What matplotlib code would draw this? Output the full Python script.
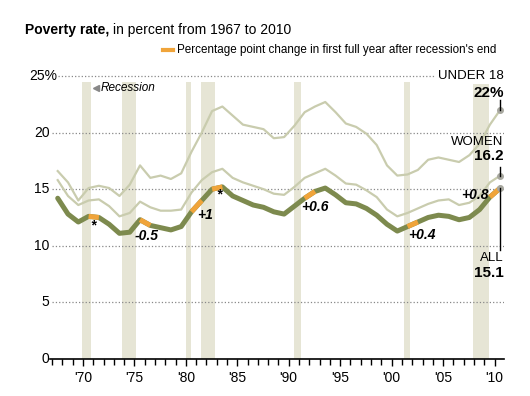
import matplotlib.pyplot as plt
import numpy as np

plt.rcParams['font.family'] = ['Liberation Sans', 'DejaVu Sans']

# poverty rate, percent
years = np.arange(1967, 2011)
all_people = [14.2, 12.8, 12.1, 12.6, 12.5, 11.9, 11.1, 11.2, 12.3, 11.8,
              11.6, 11.4, 11.7, 13.0, 14.0, 15.0, 15.2, 14.4, 14.0, 13.6,
              13.4, 13.0, 12.8, 13.5, 14.2, 14.8, 15.1, 14.5, 13.8, 13.7,
              13.3, 12.7, 11.9, 11.3, 11.7, 12.1, 12.5, 12.7, 12.6, 12.3,
              12.5, 13.2, 14.3, 15.1]
women = [15.8, 14.4, 13.6, 14.0, 14.1, 13.5, 12.6, 12.9, 13.9, 13.4,
         13.1, 13.1, 13.2, 14.7, 15.8, 16.5, 16.8, 16.0, 15.6, 15.3,
         15.0, 14.6, 14.5, 15.2, 16.0, 16.4, 16.8, 16.2, 15.5, 15.4,
         14.9, 14.3, 13.2, 12.6, 12.9, 13.3, 13.7, 14.0, 14.1, 13.6,
         13.8, 14.4, 15.6, 16.2]
under18 = [16.6, 15.6, 14.0, 15.1, 15.3, 15.1, 14.4, 15.4, 17.1, 16.0,
           16.2, 15.9, 16.4, 18.3, 20.0, 21.9, 22.3, 21.5, 20.7, 20.5,
           20.3, 19.5, 19.6, 20.6, 21.8, 22.3, 22.7, 21.8, 20.8, 20.5,
           19.9, 18.9, 17.1, 16.2, 16.3, 16.7, 17.6, 17.8, 17.6, 17.4,
           18.0, 19.0, 20.7, 22.0]

# recessions (start, end) as fractional years
recessions = [(1969.92, 1970.83), (1973.83, 1975.17), (1980.0, 1980.5),
              (1981.5, 1982.83), (1990.5, 1991.17), (2001.17, 2001.83),
              (2007.92, 2009.5)]
# first full year after recession's end: segment (year-1 -> year) and label
recovery_years = [1971, 1976, 1981, 1983, 1992, 2002, 2010]
recovery_labels = ['*', '-0.5', '+1', '*', '+0.6', '+0.4', '+0.8']

xoff = 0.55
xs = years + xoff

fig = plt.figure(figsize=(5.3, 3.96), dpi=100)
ax = fig.add_axes([50/530, 37/396, 454/530, 288.7/396])
ax.set_xlim(1966.8, 2010.92)
ax.set_ylim(0, 25.5)

for s, e in recessions:
    ax.axvspan(s, e, ymin=0, ymax=24.5/25.5, color='#e6e5d5', lw=0, zorder=0)

for v in [5, 10, 15, 20]:
    ax.hlines(v, 1966.95, 2010.92, color='#888888', lw=0.9, ls=':', zorder=1)
ax.hlines(25, 1967.55, 2010.92, color='#888888', lw=0.9, ls=':', zorder=1)

pale = '#c9ccae'
ax.plot(xs, under18, color=pale, lw=1.6, zorder=2)
ax.plot(xs, women, color=pale, lw=1.6, zorder=2)
ax.plot(xs, all_people, color='#7d8a4e', lw=3.6, solid_capstyle='round',
        solid_joinstyle='round', zorder=3)

for yr in recovery_years:
    i = list(years).index(yr)
    ax.plot(xs[i-1:i+1], all_people[i-1:i+1], color='#f0a43a', lw=3.6,
            solid_capstyle='butt', zorder=4)

# end points
for ser in [under18, women, all_people]:
    ax.plot(xs[-1], ser[-1], 'o', ms=4, color='#a8a8a0', zorder=5)

# change labels
lab_pos = [(1970.95, 11.8), (1976.2, 10.85), (1981.85, 12.75), (1983.25, 14.5),
           (1992.55, 13.4), (2002.9, 10.95), (2008.1, 14.5)]
for (lx, ly), t in zip(lab_pos, recovery_labels):
    ax.text(lx, ly, t, ha='center', va='center', fontsize=10,
            fontweight='bold', style='italic', color='black', zorder=6)

# right labels
ex = xs[-1]
ax.text(2010.9, 25.0, 'UNDER 18', ha='right', va='center', fontsize=9.5,
        zorder=6, bbox=dict(fc='white', ec='none', pad=1.5))
ax.text(2010.9, 23.5, '22%', ha='right', va='center', fontsize=11,
        fontweight='bold', zorder=6)
ax.plot([ex, ex], [22.9, under18[-1]], color='black', lw=1, zorder=6)
ax.text(2010.9, 19.2, 'WOMEN', ha='right', va='center', fontsize=9.5, zorder=6)
ax.text(2010.9, 17.9, '16.2', ha='right', va='center', fontsize=11,
        fontweight='bold', zorder=6)
ax.plot([ex, ex], [17.0, women[-1]], color='black', lw=1, zorder=6)
ax.plot([ex, ex], [all_people[-1], 9.6], color='black', lw=1, zorder=6)
ax.text(2010.9, 8.9, 'ALL', ha='right', va='center', fontsize=9.5, zorder=6)
ax.text(2010.9, 7.6, '15.1', ha='right', va='center', fontsize=11,
        fontweight='bold', zorder=6)

# recession note
ax.plot(1971.3, 23.95, marker='<', ms=4.5, color='#888888', clip_on=False)
ax.text(1971.75, 23.95, 'Recession', ha='left', va='center', fontsize=8.5,
        style='italic', zorder=6)

# axes styling
for sp in ['top', 'right', 'left']:
    ax.spines[sp].set_visible(False)
ax.spines['bottom'].set_linewidth(1.2)
ax.set_yticks([])
for v in [0, 5, 10, 15, 20]:
    ax.text(1966.75, v, str(v), ha='right', va='center', fontsize=10)
ax.text(1967.5, 25, '25%', ha='right', va='center', fontsize=10)

ax.set_xticks(np.arange(1967, 2011), minor=True)
ax.set_xticks(np.arange(1970, 2011, 5))
ax.set_xticklabels(["'70", "'75", "'80", "'85", "'90", "'95", "'00", "'05", "'10"],
                   fontsize=10)
ax.tick_params(axis='x', which='major', length=5, width=1, pad=4)
ax.tick_params(axis='x', which='minor', length=4, width=1)

# title and legend
t1 = fig.text(25/530, 1 - 30/396, 'Poverty rate,', fontsize=10,
              fontweight='bold', ha='left', va='center')
fig.canvas.draw()
bb = t1.get_window_extent()
fig.text((bb.x1 + 4)/530, 1 - 30/396, 'in percent from 1967 to 2010',
         fontsize=10, ha='left', va='center')
fig.lines.append(plt.Line2D([163/530, 173/530], [1 - 50/396, 1 - 50/396],
                            color='#f0a43a', lw=3, transform=fig.transFigure))
fig.text(177/530, 1 - 50/396,
         "Percentage point change in first full year after recession's end",
         fontsize=8.4, ha='left', va='center')

fig.savefig('out.png', dpi=100)
